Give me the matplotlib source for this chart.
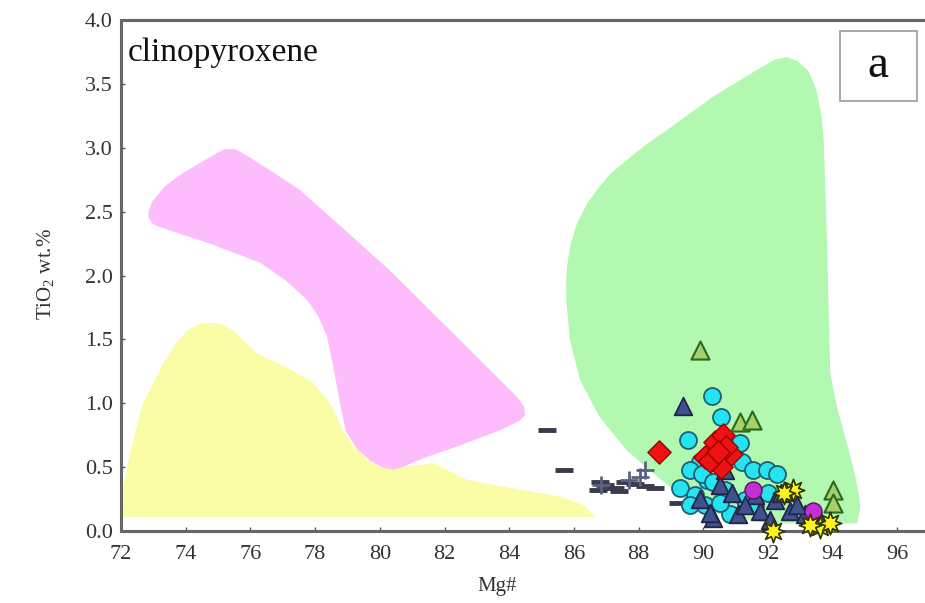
import matplotlib.pyplot as plt
import numpy as np

plt.rcParams['font.family'] = ['Liberation Serif', 'DejaVu Serif']
plt.rcParams['mathtext.fontset'] = 'custom'
plt.rcParams['mathtext.rm'] = 'Liberation Serif'

# field outlines (Mg#, TiO2)
pink_mg = [72.85, 72.97, 73.36, 73.9, 74.44, 74.9, 75.21, 75.5, 75.75, 76.45,
           77.53, 78.77, 80.31, 81.86, 83.41, 84.2, 84.45, 84.49, 84.3, 83.72,
           82.48, 81.24, 80.7, 80.41, 80.05, 79.7, 79.3, 78.95, 78.77, 78.55,
           78.37, 78.1, 77.75, 77.1, 76.3, 74.75, 73.42, 73.0, 72.85]
pink_ti = [2.5, 2.58, 2.7, 2.8, 2.88, 2.95, 2.99, 2.99, 2.96, 2.85,
           2.67, 2.39, 2.04, 1.65, 1.26, 1.06, 0.98, 0.91, 0.86, 0.79,
           0.67, 0.56, 0.5, 0.48, 0.5, 0.55, 0.64, 0.78, 1.0, 1.3,
           1.52, 1.68, 1.81, 1.96, 2.1, 2.25, 2.36, 2.4, 2.45]

yellow_mg = [72.05, 72.08, 72.28, 72.68, 73.3, 73.7, 74.04, 74.4, 74.75, 75.1,
             75.46, 76.2, 77.13, 77.94, 78.46, 78.86, 79.2, 79.6, 80.0, 80.4,
             81.0, 81.65, 82.7, 84.2, 85.57, 86.3, 86.65, 72.05]
yellow_ti = [0.11, 0.35, 0.61, 1.0, 1.31, 1.47, 1.57, 1.62, 1.63, 1.62,
             1.57, 1.39, 1.28, 1.16, 1.0, 0.79, 0.66, 0.56, 0.5, 0.49,
             0.51, 0.53, 0.4, 0.33, 0.27, 0.2, 0.11, 0.11]

green_mg = [92.59, 92.9, 93.25, 93.5, 93.65, 93.72, 93.82, 93.92, 94.13, 94.4,
            94.63, 94.8, 94.85, 94.75, 92.0, 89.9, 88.45, 87.64, 86.8, 86.19,
            85.88, 85.76, 85.76, 85.79, 85.9, 86.1, 86.4, 86.71, 87.1, 87.52,
            88.2, 88.88, 90.3, 91.66, 92.2]
green_ti = [3.71, 3.68, 3.6, 3.45, 3.25, 3.06, 2.28, 1.24, 0.97, 0.72,
            0.5, 0.3, 0.19, 0.06, 0.06, 0.16, 0.45, 0.63, 0.89, 1.18,
            1.49, 1.81, 1.95, 2.08, 2.25, 2.41, 2.56, 2.67, 2.79, 2.88,
            3.02, 3.14, 3.4, 3.61, 3.69]

# sample groups
dash_mg = [85.17, 85.7, 86.75, 86.96, 87.27, 87.58, 87.89, 88.2, 88.5, 87.4, 86.8, 89.22]
dash_ti = [0.79, 0.48, 0.32, 0.36, 0.34, 0.38, 0.37, 0.35, 0.34, 0.31, 0.38, 0.22]
plus_mg = [88.04, 88.2, 86.85, 87.7]
plus_ti = [0.42, 0.48, 0.36, 0.4]

cyan_mg = [90.27, 90.55, 89.53, 89.9, 89.6, 89.28, 89.75, 89.6, 90.1, 90.98,
           91.2, 91.53, 91.97, 92.27, 91.13, 90.67, 90.05, 90.83, 91.3, 90.52,
           89.95, 90.3, 91.6, 92.0]
cyan_ti = [1.06, 0.89, 0.71, 0.54, 0.48, 0.34, 0.28, 0.2, 0.4, 0.66,
           0.54, 0.48, 0.48, 0.45, 0.69, 0.32, 0.2, 0.13, 0.24, 0.22,
           0.45, 0.38, 0.2, 0.3]

tri_mg = [89.37, 90.52, 90.3, 91.75, 92.2, 92.68, 93.14, 93.6, 91.07, 92.05,
          91.6, 90.67, 90.9, 92.4, 91.3, 89.9, 90.2, 92.9]
tri_ti = [0.98, 0.36, 0.1, 0.16, 0.24, 0.16, 0.13, 0.09, 0.13, 0.09,
          0.28, 0.48, 0.3, 0.3, 0.2, 0.25, 0.14, 0.2]

red_mg = [88.62, 90.05, 90.35, 90.6, 90.85, 90.55, 90.2, 90.7, 90.45]
red_ti = [0.62, 0.58, 0.7, 0.75, 0.6, 0.5, 0.55, 0.66, 0.62]

lgtri_mg = [89.9, 91.13, 91.5, 94.0, 94.0]
lgtri_ti = [1.42, 0.85, 0.87, 0.32, 0.22]

mag_mg = [91.53, 93.4]
mag_ti = [0.32, 0.16]

star_mg = [92.77, 93.6, 93.92, 92.15, 92.5, 93.3]
star_ti = [0.32, 0.03, 0.06, 0.0, 0.3, 0.05]

fig = plt.figure(figsize=(9.25, 6.03), dpi=100)
ax = fig.add_axes([0.1308, 0.1194, 0.8692, 0.8474])

ax.fill(yellow_mg, yellow_ti, color='#fbfca6', lw=0, zorder=1)
ax.fill(pink_mg, pink_ti, color='#fdbcfb', lw=0, zorder=2)
ax.fill(green_mg, green_ti, color='#b3f8b0', lw=0, zorder=1)

ax.plot(dash_mg, dash_ti, ls='none', marker='_', ms=13, mew=3.5, color='#3a3a4c', zorder=3)
ax.plot(plus_mg, plus_ti, ls='none', marker='+', ms=13, mew=2, color='#5a6284', zorder=3)
ax.scatter(cyan_mg, cyan_ti, s=150, marker='o', c='#25e3ef', edgecolors='#1d5f78', linewidths=1.3, zorder=4)
ax.scatter(tri_mg, tri_ti, s=160, marker='^', c='#41508e', edgecolors='#1e2648', linewidths=1.3, zorder=5)
ax.scatter(red_mg, red_ti, s=140, marker='D', c='#ee1212', edgecolors='#a00000', linewidths=1, zorder=6)
ax.scatter(lgtri_mg, lgtri_ti, s=170, marker='^', c='#a6d06c', edgecolors='#2b6a1a', linewidths=1.5, zorder=6)
ax.scatter(mag_mg, mag_ti, s=150, marker='o', c='#c22fd4', edgecolors='#5a105a', linewidths=1, zorder=6)
ax.scatter(star_mg, star_ti, s=260, marker=(8, 1, 0), c='#fbf51c', edgecolors='#333300', linewidths=1.2,
           zorder=7, clip_on=False)

ax.set_xlim(72, 96.85)
ax.set_ylim(0, 4)
ax.set_xticks(np.arange(72, 97, 2))
ax.set_yticks(np.arange(0, 4.01, 0.5))
ax.set_yticklabels([f'{v:.1f}' for v in np.arange(0, 4.01, 0.5)])
ax.tick_params(direction='in', length=3, width=1, color='#555555', labelsize=16,
               labelcolor='#333333')
ax.tick_params(axis='x', pad=10)
ax.tick_params(axis='y', pad=6)

for s in ['left', 'bottom', 'top']:
    ax.spines[s].set_color('#666666')
    ax.spines[s].set_linewidth(2.2)
ax.spines['right'].set_visible(False)

ax.text(0.009, 0.965, 'clinopyroxene', transform=ax.transAxes, fontsize=24,
        va='top', ha='left', color='#111111')

rect = plt.Rectangle((0.894, 0.8415), 0.0958, 0.137, transform=ax.transAxes,
                     fill=True, facecolor='white', edgecolor='#999999', lw=1.2, zorder=8)
ax.add_patch(rect)
ax.text(0.9415, 0.91, 'a', transform=ax.transAxes, fontsize=34, ha='center', va='center',
        color='#111111', zorder=9)

fig.text(0.537, 0.027, 'Mg#', fontsize=15, ha='center', va='center', color='#333333')
fig.text(0.05, 0.545, r'TiO$_\mathrm{2}$ wt.%', fontsize=15, rotation=90, ha='center',
         va='center', color='#333333')

fig.savefig('out.png', dpi=100)
